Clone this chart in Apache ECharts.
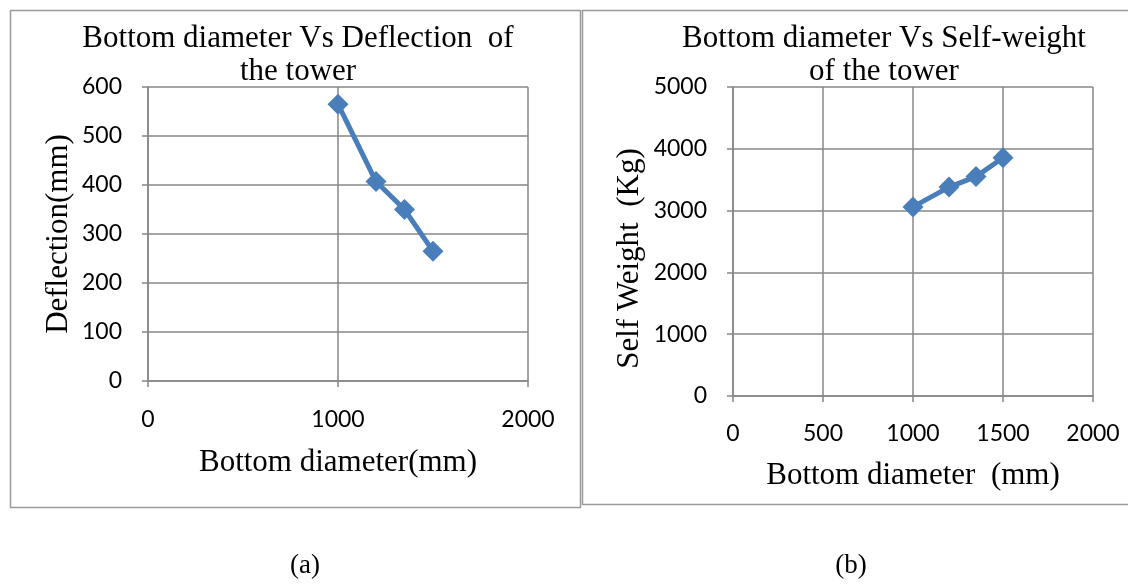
<!DOCTYPE html>
<html><head><meta charset="utf-8">
<script src="https://cdn.jsdelivr.net/npm/echarts@6/dist/echarts.min.js"></script>
<style>html,body{margin:0;padding:0;background:#fff}#c{width:1128px;height:584px}</style>
</head><body><div id="c"></div>
<script>
const diameterA = [1000, 1200, 1350, 1500];
const deflection = [565, 407, 350, 265];
const diameterB = [1000, 1200, 1350, 1500];
const selfWeight = [3060, 3380, 3550, 3855];
const titleA = 'Bottom diameter Vs Deflection  of\nthe tower';
const titleB = 'Bottom diameter Vs Self-weight\nof the tower';
const xNameA = 'Bottom diameter(mm)';
const yNameA = 'Deflection(mm)';
const xNameB = 'Bottom diameter  (mm)';
const yNameB = 'Self Weight  (Kg)';
const panelLabels = ['(a)', '(b)'];

const serif = 'Liberation Serif';
const sans = 'Lato';
const grey = '#878787';
const blue = '#4a7ebb';

function xAxis(gi, interval, name, gap, margin) {
  return {
    type: 'value', gridIndex: gi, min: 0, max: 2000, interval: interval,
    name: name, nameLocation: 'middle', nameGap: gap,
    nameTextStyle: {fontFamily: serif, fontSize: 31, color: '#000'},
    axisLine: {show: true, lineStyle: {color: grey, width: 1.5}},
    axisTick: {show: true, length: 6, inside: false, lineStyle: {color: grey, width: 1.5}},
    axisLabel: {fontFamily: sans, fontSize: 23, color: '#000', margin: margin, formatter: v => String(v)},
    splitLine: {show: true, lineStyle: {color: grey, width: 1.5}}
  };
}
function yAxis(gi, max, interval, name, gap, margin, pad) {
  return {
    type: 'value', gridIndex: gi, min: 0, max: max, interval: interval,
    name: name, nameLocation: 'middle', nameGap: gap, nameRotate: 90,
    nameTextStyle: {fontFamily: serif, fontSize: 31, color: '#000', padding: pad},
    axisLine: {show: true, lineStyle: {color: grey, width: 1.5}},
    axisTick: {show: true, length: 6, inside: false, lineStyle: {color: grey, width: 1.5}},
    axisLabel: {fontFamily: sans, fontSize: 23, color: '#000', margin: margin, formatter: v => String(v)},
    splitLine: {show: true, lineStyle: {color: grey, width: 1.5}}
  };
}

const chart = echarts.init(document.getElementById('c'), null, {renderer: 'canvas'});
chart.setOption({
  backgroundColor: '#fff',
  animation: false,
  title: [
    {text: titleA, left: 298, top: 22, textAlign: 'center', padding: 0,
     textStyle: {fontFamily: serif, fontSize: 31, fontWeight: 'normal', color: '#000', lineHeight: 33}},
    {text: titleB, left: 884, top: 22, textAlign: 'center', padding: 0,
     textStyle: {fontFamily: serif, fontSize: 31, fontWeight: 'normal', color: '#000', lineHeight: 33}},
    {text: panelLabels[0], left: 305, top: 552, textAlign: 'center', padding: 0,
     textStyle: {fontFamily: serif, fontSize: 27, fontWeight: 'normal', color: '#000'}},
    {text: panelLabels[1], left: 851, top: 552, textAlign: 'center', padding: 0,
     textStyle: {fontFamily: serif, fontSize: 27, fontWeight: 'normal', color: '#000'}}
  ],
  graphic: [
    {type: 'rect', shape: {x: 10.5, y: 10.5, width: 570, height: 497}, style: {fill: 'none', stroke: '#9a9a9a', lineWidth: 1.5}, silent: true},
    {type: 'rect', shape: {x: 582.5, y: 10.5, width: 560, height: 494}, style: {fill: 'none', stroke: '#9a9a9a', lineWidth: 1.5}, silent: true}
  ],
  grid: [
    {left: 148, top: 87, width: 380, height: 294, containLabel: false},
    {left: 733, top: 87, width: 360, height: 309, containLabel: false}
  ],
  xAxis: [xAxis(0, 1000, xNameA, 66, 27), xAxis(1, 500, xNameB, 64, 26)],
  yAxis: [yAxis(0, 600, 100, yNameA, 74, 26, 0), yAxis(1, 5000, 1000, yNameB, 88, 26, [0, 34, 0, 0])],
  series: [
    {type: 'line', xAxisIndex: 0, yAxisIndex: 0,
     data: diameterA.map((d, i) => [d, deflection[i]]),
     symbol: 'diamond', symbolSize: 21, showAllSymbol: true,
     lineStyle: {color: blue, width: 5}, itemStyle: {color: blue}},
    {type: 'line', xAxisIndex: 1, yAxisIndex: 1,
     data: diameterB.map((d, i) => [d, selfWeight[i]]),
     symbol: 'diamond', symbolSize: 21, showAllSymbol: true,
     lineStyle: {color: blue, width: 5}, itemStyle: {color: blue}}
  ]
});
</script></body></html>
